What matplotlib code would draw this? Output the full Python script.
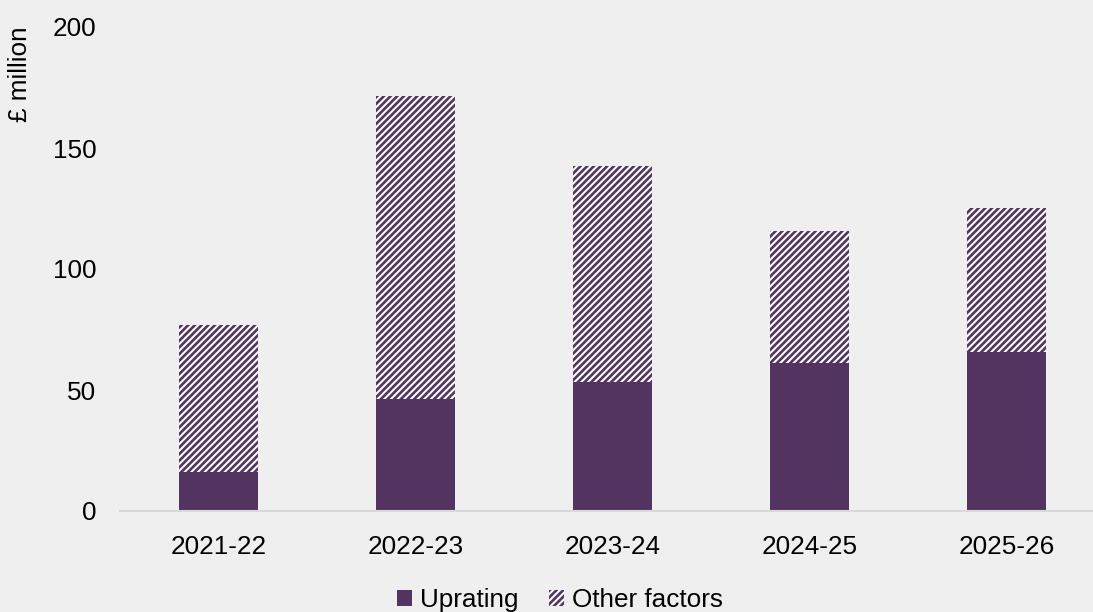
import matplotlib
matplotlib.use('Agg')
import matplotlib.pyplot as plt
import numpy as np

# years and values (£ million)
years = ['2021-22', '2022-23', '2023-24', '2024-25', '2025-26']
uprating = [16.2, 46.3, 53.3, 61.3, 65.7]
other_factors = [60.5, 125.2, 89.3, 54.5, 59.5]

purple = '#533460'
bg = '#efefef'

plt.rcParams['font.family'] = ['Liberation Sans', 'DejaVu Sans']
plt.rcParams['hatch.linewidth'] = 1.9

fig = plt.figure(figsize=(10.93, 6.12), dpi=100, facecolor=bg)
ax = fig.add_axes([120 / 1093, 1 - 511 / 612, 1 - 120 / 1093, (511 - 27) / 612])
ax.set_facecolor(bg)

x = np.arange(len(years))
ax.bar(x, uprating, width=0.4, color=purple, linewidth=0, label='Uprating')
ax.bar(x, other_factors, width=0.4, bottom=uprating, color='white',
       edgecolor=purple, hatch='/////', linewidth=0, label='Other factors')

ax.set_xlim(-0.5, -0.5 + (1093 - 120) / 197)
ax.set_ylim(0, 200)
ax.set_yticks([0, 50, 100, 150, 200])
ax.set_xticks(x)
ax.set_xticklabels(years)
ax.tick_params(axis='both', length=0, labelsize=18.8, colors='black')
ax.tick_params(axis='y', pad=17)
ax.tick_params(axis='x', pad=17)

for side in ['top', 'right', 'left']:
    ax.spines[side].set_visible(False)
ax.spines['bottom'].set_color('#d9d9d9')
ax.spines['bottom'].set_linewidth(1.5)

fig.text(20 / 1093, 1 - 74 / 612, '£ million', rotation=90, ha='center',
         va='center', fontsize=18.8, color='black')

fig.legend(loc='center', bbox_to_anchor=(560 / 1093, 1 - 600 / 612), ncol=2,
           frameon=False, fontsize=18.8, handlelength=0.6, handleheight=0.6,
           handletextpad=0.3, columnspacing=1.15)

fig.savefig('out.png', dpi=100, facecolor=bg)
